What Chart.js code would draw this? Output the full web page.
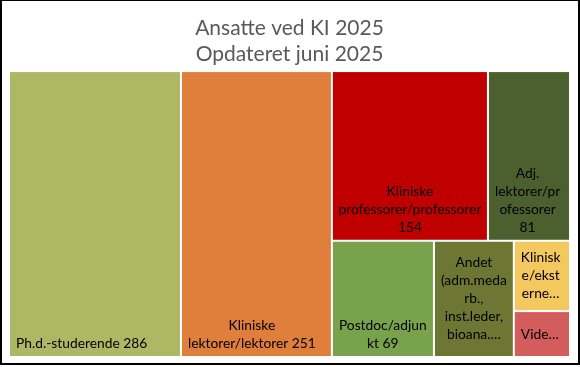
<!DOCTYPE html>
<html>
<head>
<meta charset="utf-8">
<script src="https://cdn.jsdelivr.net/npm/chart.js@4"></script>
<style>
  html, body { margin: 0; padding: 0; background: #fff; }
  #wrap { position: relative; width: 580px; height: 367px; }
</style>
</head>
<body>
<div id="wrap"><canvas id="treemap" width="580" height="367"></canvas></div>
<script>
const categories = [
    'Ph.d.-studerende',
    'Kliniske lektorer/lektorer',
    'Kliniske professorer/professorer',
    'Adj. lektorer/professorer',
    'Postdoc/adjunkt',
    'Andet (adm.medarb., inst.leder, bioanalytikere)',
    'Kliniske/eksterne lektorer',
    'Videnskabelige assistenter'
];
const values = [286, 251, 154, 81, 69, 54, 23, 15];
const colors = ['#AEB864', '#E07E3C', '#C00000', '#4B5F2F', '#78A24B', '#6E7634', '#F2C85F', '#D35C5C'];
// label text as it is wrapped / cut in the picture
const labelLines = [
    ['Ph.d.-studerende 286'],
    ['Kliniske', 'lektorer/lektorer 251'],
    ['Kliniske', 'professorer/professorer', '154'],
    ['Adj.', 'lektorer/pr', 'ofessorer', '81'],
    ['Postdoc/adjun', 'kt 69'],
    ['Andet', '(adm.meda', 'rb.,', 'inst.leder,', 'bioana.…'],
    ['Klinisk', 'e/ekst', 'erne…'],
    ['Vide…']
];

const FONT = 'Lato, "Open Sans", sans-serif';

const worst = (row, side) => {
    const s = row.reduce((a, b) => a + b, 0);
    const mx = Math.max(...row), mn = Math.min(...row);
    return Math.max(side * side * mx / (s * s), (s * s) / (side * side * mn));
};

// squarified treemap, areas in px^2, returns rects in px
const squarify = (areas, x, y, w, h) => {
    const out = [];
    let i = 0;
    while (i < areas.length) {
        const side = Math.min(w, h);
        const row = [areas[i]];
        let j = i + 1;
        while (j < areas.length && worst([...row, areas[j]], side) <= worst(row, side)) {
            row.push(areas[j]);
            j++;
        }
        const s = row.reduce((a, b) => a + b, 0);
        if (w >= h) {
            const cw = s / h;
            let cy = y;
            row.forEach(a => { out.push({ x: x, y: cy, w: cw, h: a / cw }); cy += a / cw; });
            x += cw; w -= cw;
        } else {
            const rh = s / w;
            let cx = x;
            row.forEach(a => { out.push({ x: cx, y: y, w: a / rh, h: rh }); cx += a / rh; });
            y += rh; h -= rh;
        }
        i = j;
    }
    return out;
};

const treemapPlugin = {
    id: 'treemapCells',
    afterDatasetsDraw(chart) {
        const { ctx, chartArea, scales } = chart;
        const W = chartArea.right - chartArea.left;
        const H = chartArea.bottom - chartArea.top;
        const total = values.reduce((a, b) => a + b, 0);
        const rects = squarify(values.map(v => v / total * W * H), 0, 0, W, H);

        ctx.save();
        rects.forEach((r, i) => {
            // to scale units (0..1) and back through the scales
            const x0 = scales.x.getPixelForValue(r.x / W);
            const x1 = scales.x.getPixelForValue((r.x + r.w) / W);
            const y0 = scales.y.getPixelForValue(r.y / H);
            const y1 = scales.y.getPixelForValue((r.y + r.h) / H);
            const left = Math.min(x0, x1) + 1, right = Math.max(x0, x1) - 1;
            const top = Math.min(y0, y1) + 1, bottom = Math.max(y0, y1) - 1;
            ctx.fillStyle = colors[i];
            ctx.fillRect(left, top, right - left, bottom - top);

            ctx.font = '13.8px ' + FONT;
            ctx.fillStyle = '#000';
            ctx.textAlign = 'center';
            ctx.textBaseline = 'middle';
            const lines = labelLines[i];
            const lh = 18;
            const boxW = Math.min(Math.max(...lines.map(l => ctx.measureText(l).width)), right - left - 12);
            const cx = left + 6 + boxW / 2;
            const cut = lines[lines.length - 1].endsWith('…');
            let firstY;
            if (cut) {
                firstY = (top + bottom) / 2 - (lines.length - 1) * lh / 2;
            } else {
                firstY = bottom - 12 - (lines.length - 1) * lh;
            }
            lines.forEach((l, k) => ctx.fillText(l, cx, firstY + k * lh));
        });
        ctx.restore();
    },
    afterDraw(chart) {
        const ctx = chart.ctx;
        ctx.save();
        ctx.fillStyle = '#000';
        ctx.fillRect(0, 0, 580, 1);
        ctx.fillRect(0, 0, 2, 365);
        ctx.fillRect(578, 0, 2, 365);
        ctx.fillRect(0, 363, 580, 2);
        ctx.restore();
    }
};

new Chart(document.getElementById('treemap'), {
    type: 'scatter',
    data: {
        datasets: [{ label: 'Ansatte', data: [], pointRadius: 0 }]
    },
    options: {
        responsive: false,
        animation: false,
        events: [],
        layout: { padding: { left: 9, right: 10, top: 0, bottom: 10 } },
        scales: {
            x: { type: 'linear', min: 0, max: 1, display: false },
            y: { type: 'linear', min: 0, max: 1, reverse: true, display: false }
        },
        plugins: {
            legend: { display: false },
            tooltip: { enabled: false },
            title: {
                display: true,
                text: ['Ansatte ved KI 2025', 'Opdateret juni 2025'],
                color: '#595959',
                font: { family: FONT, size: 21, weight: 'normal', lineHeight: 1.24 },
                padding: { top: 15, bottom: 4 }
            }
        }
    },
    plugins: [treemapPlugin]
});
</script>
</body>
</html>
